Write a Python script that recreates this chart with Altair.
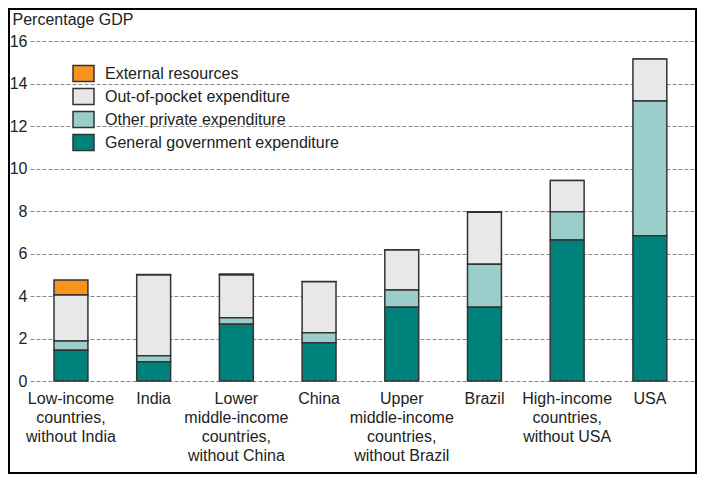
import altair as alt
import pandas as pd

categories = [
    "Low-income\ncountries,\nwithout India",
    "India",
    "Lower\nmiddle-income\ncountries,\nwithout China",
    "China",
    "Upper\nmiddle-income\ncountries,\nwithout Brazil",
    "Brazil",
    "High-income\ncountries,\nwithout USA",
    "USA",
]
series = [
    "External resources",
    "Out-of-pocket expenditure",
    "Other private expenditure",
    "General government expenditure",
]
colors = ["#F7941E", "#E8E8E8", "#9BCDCA", "#00827C"]
stack_order = [3, 2, 1, 0]

general_government = [1.45, 0.91, 2.67, 1.80, 3.47, 3.47, 6.64, 6.84]
other_private = [0.43, 0.28, 0.31, 0.47, 0.81, 2.03, 1.33, 6.34]
out_of_pocket = [2.17, 3.80, 2.01, 2.40, 1.88, 2.44, 1.46, 1.97]
external = [0.70, 0.02, 0.05, 0.01, 0.02, 0.03, 0.0, 0.0]
y_ticks = [0, 2, 4, 6, 8, 10, 12, 14, 16]

values_by_series = [external, out_of_pocket, other_private, general_government]
rows = []
for s, vals, o in zip(series, values_by_series, stack_order):
    for c, v in zip(categories, vals):
        rows.append({"category": c, "series": s, "value": v, "order": o})
df = pd.DataFrame(rows)

font = "Liberation Sans"

bars = alt.Chart(df).mark_bar(stroke="#333333", strokeWidth=1.5).encode(
    x=alt.X(
        "category:N",
        sort=categories,
        scale=alt.Scale(paddingInner=0.59, paddingOuter=0.3155, align=0.46),
        axis=alt.Axis(
            title=None,
            labelAngle=0,
            labelExpr="split(datum.label, '\\n')",
            labelFontSize=16,
            labelLineHeight=19,
            labelPadding=9,
            labelColor="#222222",
            labelFont=font,
            ticks=False,
            domain=False,
            grid=False,
            labelLimit=200,
        ),
    ),
    y=alt.Y(
        "value:Q",
        stack="zero",
        scale=alt.Scale(domain=[0, 16], nice=False),
        axis=alt.Axis(
            values=y_ticks,
            title="Percentage GDP",
            titleAngle=0,
            titleAlign="left",
            titleBaseline="alphabetic",
            titleX=-18,
            titleY=-17,
            titleFontSize=16,
            titleFontWeight="normal",
            titleFont=font,
            titleColor="#222222",
            labelFontSize=16,
            labelFont=font,
            labelColor="#222222",
            labelPadding=3,
            ticks=False,
            domain=False,
            grid=True,
            gridDash=[4, 2],
            gridColor="#888888",
            gridWidth=1,
        ),
    ),
    color=alt.Color(
        "series:N",
        scale=alt.Scale(domain=series, range=colors),
        legend=alt.Legend(
            title=None,
            orient="none",
            legendX=42,
            legendY=21,
            padding=0,
            symbolType="M-1,-0.76H1V0.76H-1Z",
            symbolSize=441,
            symbolStrokeColor="#333333",
            symbolStrokeWidth=1.5,
            symbolOpacity=1,
            labelFontSize=16,
            labelFont=font,
            labelColor="#222222",
            labelOffset=10,
            rowPadding=-2.5,
            labelLimit=400,
        ),
    ),
    order=alt.Order("order:Q", sort="ascending"),
)

frame = alt.Chart(pd.DataFrame({"f": [0]})).mark_rect(
    fill=None, stroke="#000000", strokeWidth=2
).encode(
    x=alt.value(-21), x2=alt.value(666), y=alt.value(-32), y2=alt.value(432)
)

chart = alt.layer(bars, frame).properties(
    width=665,
    height=340,
    autosize=alt.AutoSizeParams(type="none"),
    padding={"left": 22, "top": 33, "right": 2, "bottom": 93},
).configure_view(stroke=None)

chart.save("out.html", embed_options={"renderer": "svg", "actions": False})
